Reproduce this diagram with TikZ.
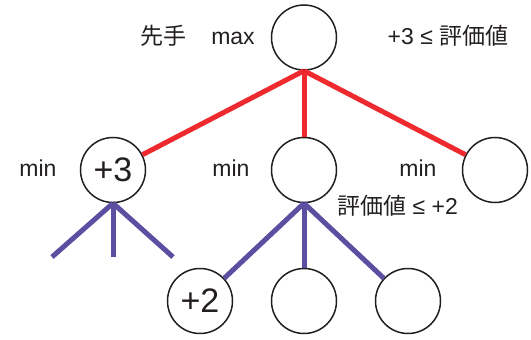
\documentclass[tikz,border=0pt]{standalone}
\usepackage{fontspec}
\setmainfont{Liberation Sans}
\newfontfamily\jp{Noto Sans CJK JP}
\definecolor{redc}{HTML}{EE2A2F}
\definecolor{bluec}{HTML}{5A4FA0}
\definecolor{txt}{HTML}{231F20}
\begin{document}
\begin{tikzpicture}[x=1pt,y=-1pt,
  state/.style={circle,draw=txt,line width=1.5pt,fill=white,minimum size=65pt,inner sep=0pt,text=txt,font=\fontsize{34}{34}\selectfont},
  lbl/.style={anchor=base,font=\fontsize{23}{23}\selectfont,text=txt,inner sep=0pt},
  redline/.style={draw=redc,line width=5pt},
  blueline/.style={draw=bluec,line width=5pt}]
\useasboundingbox (0,0) rectangle (531,340);
\node[state] (root) at (304,37.5) {};
\node[state] (a) at (113,170) {+3};
\node[state] (b) at (304,170) {};
\node[state] (c) at (495,170) {};
\node[state] (d) at (200,301) {+2};
\node[state] (e) at (304,301) {};
\node[state] (f) at (408,301) {};
\coordinate (l1) at (52,257);
\coordinate (l2) at (113,257);
\coordinate (l3) at (173,257);
\draw[redline] (root.south) -- (a);
\draw[redline] (root.south) -- (b.north);
\draw[redline] (root.south) -- (c);
\draw[blueline] (a.south) -- (l1);
\draw[blueline] (a.south) -- (l2);
\draw[blueline] (a.south) -- (l3);
\draw[blueline] (b.south) -- (d);
\draw[blueline] (b.south) -- (e.north);
\draw[blueline] (b.south) -- (f);
\node[lbl] (sente) at (163,44) {\jp 先手};
\node[lbl] (maxl) at (233,44) {max};
\node[lbl] (lo) at (448,44) {+3 ≤ {\jp 評価値}};
\node[lbl] (mina) at (38,176) {min};
\node[lbl] (minb) at (231,176) {min};
\node[lbl] (minc) at (418,176) {min};
\node[lbl] (hi) at (397.5,214) {{\jp 評価値} ≤ +2};
\end{tikzpicture}
\end{document}
